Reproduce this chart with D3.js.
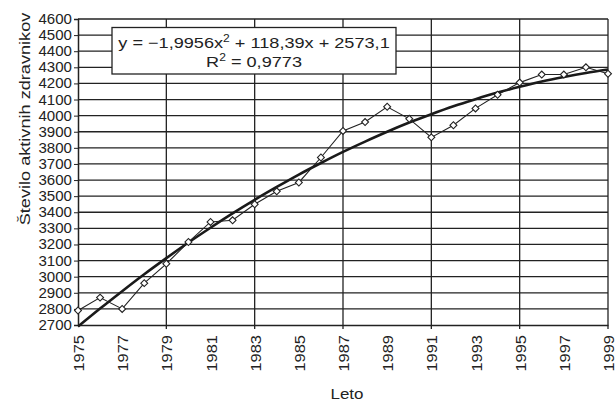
<!DOCTYPE html>
<html>
<head>
<meta charset="utf-8">
<script src="https://cdn.jsdelivr.net/npm/d3@7"></script>
<style>
  body { margin: 0; background: #fff; }
  svg text { font-family: "Liberation Sans", Arial, sans-serif; fill: #222; }
</style>
</head>
<body>
<div id="chart"></div>
<script>
// years on the x axis
var years = [1975, 1976, 1977, 1978, 1979, 1980, 1981, 1982, 1983, 1984, 1985, 1986,
             1987, 1988, 1989, 1990, 1991, 1992, 1993, 1994, 1995, 1996, 1997, 1998, 1999];
// number of active doctors
var doctors = [2790, 2870, 2800, 2960, 3080, 3215, 3340, 3350, 3450, 3530, 3585, 3740,
               3905, 3960, 4055, 3980, 3865, 3940, 4045, 4130, 4205, 4255, 4255, 4300, 4260];
// polynomial trendline values as drawn
var trend = [2690, 2802, 2910, 3015, 3115, 3212, 3304, 3393, 3477, 3557, 3634, 3706,
             3775, 3839, 3900, 3957, 4009, 4058, 4102, 4143, 4179, 4212, 4240, 4265, 4286];
var yTicks = d3.range(2700, 4601, 100);
var xLabels = [1975, 1977, 1979, 1981, 1983, 1985, 1987, 1989, 1991, 1993, 1995, 1997, 1999];
var xGrid = [1979, 1983, 1987, 1991, 1995, 1999];
var eqLine1 = ["y = \u22121,9956x", "2", " + 118,39x + 2573,1"];
var eqLine2 = ["R", "2", " = 0,9773"];

var margin = {top: 19, right: 8, bottom: 77, left: 78},
    W = 616, H = 402,
    width = W - margin.left - margin.right,
    height = H - margin.top - margin.bottom;

var svg = d3.select("#chart").append("svg")
    .attr("width", W).attr("height", H);
var g = svg.append("g")
    .attr("transform", "translate(" + margin.left + "," + margin.top + ")");

var x = d3.scaleLinear().domain([1975, 1999]).range([0, width]);
var y = d3.scaleLinear().domain([2700, 4600]).range([height, 0]);

// horizontal grid
g.selectAll(".hgrid").data(yTicks.slice(1))
  .enter().append("line")
    .attr("x1", 0).attr("x2", width)
    .attr("y1", function(d) { return y(d); })
    .attr("y2", function(d) { return y(d); })
    .attr("stroke", "#222").attr("stroke-width", 1.3);

// vertical grid
g.selectAll(".vgrid").data(xGrid)
  .enter().append("line")
    .attr("x1", function(d) { return x(d); })
    .attr("x2", function(d) { return x(d); })
    .attr("y1", 0).attr("y2", height + 4)
    .attr("stroke", "#222").attr("stroke-width", 1.3);

// y axis
var yAxis = g.append("g")
    .call(d3.axisLeft(y).tickValues(yTicks).tickSize(4).tickPadding(2).tickFormat(d3.format("d")));
yAxis.select(".domain").attr("stroke", "#222").attr("stroke-width", 1.5);
yAxis.selectAll(".tick line").attr("stroke", "#222");
yAxis.selectAll("text")
    .attr("font-size", 14)
    .attr("fill", "#222")
    .attr("textLength", 33.5)
    .attr("lengthAdjust", "spacingAndGlyphs");

// x axis
var xAxis = g.append("g")
    .attr("transform", "translate(0," + height + ")")
    .call(d3.axisBottom(x).tickValues(xLabels).tickSize(0).tickFormat(d3.format("d")));
xAxis.select(".domain").attr("stroke", "#222").attr("stroke-width", 1.5);
xAxis.selectAll("text")
    .attr("font-size", 14.5)
    .attr("fill", "#222")
    .attr("text-anchor", "end")
    .attr("dy", null)
    .attr("textLength", 36.5)
    .attr("lengthAdjust", "spacingAndGlyphs")
    .attr("transform", "translate(5.5,10) rotate(-90)")
    .attr("y", 0).attr("x", 0);

// trendline
g.append("path")
  .datum(trend)
  .attr("fill", "none")
  .attr("stroke", "#1a1a1a")
  .attr("stroke-width", 2.6)
  .attr("stroke-linejoin", "round")
  .attr("d", d3.line()
    .curve(d3.curveMonotoneX)
    .x(function(d, i) { return x(years[i]); })
    .y(function(d) { return y(d); }));

// data line
g.append("path")
  .datum(doctors)
  .attr("fill", "none")
  .attr("stroke", "#222")
  .attr("stroke-width", 1.1)
  .attr("d", d3.line()
    .x(function(d, i) { return x(years[i]); })
    .y(function(d) { return y(d); }));

// diamond markers
g.selectAll(".pt").data(doctors)
  .enter().append("path")
    .attr("d", d3.symbol().type(d3.symbolSquare).size(24))
    .attr("transform", function(d, i) {
      return "translate(" + x(years[i]) + "," + y(d) + ") rotate(45)";
    })
    .attr("fill", "#fff")
    .attr("stroke", "#222")
    .attr("stroke-width", 1.1);

// equation box
var box = svg.append("g");
box.append("rect")
  .attr("x", 112).attr("y", 27.5).attr("width", 284).attr("height", 46.5)
  .attr("fill", "#fff").attr("stroke", "#222").attr("stroke-width", 1.3);

function eqText(parts, yPos) {
  var t = box.append("text")
    .attr("transform", "translate(254," + yPos + ") scale(1.21,1)")
    .attr("text-anchor", "middle")
    .attr("font-size", 15);
  t.append("tspan").text(parts[0]);
  t.append("tspan").attr("dy", -6).attr("font-size", 10).text(parts[1]);
  t.append("tspan").attr("dy", 6).text(parts[2]);
}
eqText(eqLine1, 48);
eqText(eqLine2, 67);

// axis titles
svg.append("text")
  .attr("transform", "translate(30,119) rotate(-90) scale(1.17,1)")
  .attr("text-anchor", "middle")
  .attr("font-size", 15.5)
  .text("Število aktivnih zdravnikov");

svg.append("text")
  .attr("transform", "translate(347,399) scale(1.13,1)")
  .attr("text-anchor", "middle")
  .attr("font-size", 15)
  .text("Leto");
</script>
</body>
</html>
